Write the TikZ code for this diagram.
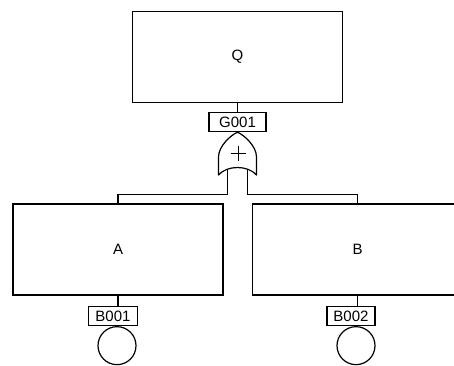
\documentclass[tikz,border=0pt]{standalone}
\usepackage{fontspec}
\setmainfont{Liberation Sans}
\usetikzlibrary{positioning}

\begin{document}
\begin{tikzpicture}[x=1pt, y=-1pt,
      every node/.style={font=\fontsize{15}{17}\selectfont},
      event/.style={draw, line width=1.2pt, minimum width=210pt, minimum height=91pt, inner sep=0pt},
      tag/.style={draw, line width=1.1pt, minimum height=19pt, inner sep=0pt},
      basic/.style={draw, line width=1.2pt, circle, minimum size=38pt, inner sep=0pt},
      wire/.style={line width=1.2pt}
    ]
    \useasboundingbox (0,0) rectangle (454,365);
    \node[event] (top) at (237.5,57) {Q};
    \node[tag, minimum width=57pt, below=9pt of top] (g001) {G001};
    \node[event] (evA) at (118,249.5) {A};
    \node[event] (evB) at (357.5,249.5) {B};
    \node[tag, minimum width=49pt] (b001) at (113,316) {B001};
    \node[tag, minimum width=48pt] (b002) at (351,316) {B002};
    \node[basic, below=0pt of b001.south, xshift=4pt, anchor=north] (c001) {};
    \node[basic, below=0pt of b002.south, xshift=5pt, anchor=north] (c002) {};
    % or gate
    \coordinate (tip) at (g001.south);
    \coordinate (legL) at (227.5,169.5);
    \coordinate (legR) at (247.5,169.5);
    \draw[wire, line join=round] (tip) .. controls (231,135) and (218.5,146) .. (218.5,157)
      -- (218.5,175) .. controls (227,165) and (248,165) .. (256.5,175)
      -- (256.5,157) .. controls (256.5,146) and (244,135) .. (tip);
    \draw[wire, line width=0.9pt] (230.5,153) -- (245.5,153) (238,145.5) -- (238,160.5);
    % connectors
    \draw[wire] (top.south) -- (g001.north);
    \draw[wire] (legL) -- ++(0,25) -| (evA.north);
    \draw[wire] (legR) -- ++(0,25) -| (evB.north);
    \draw[wire] (evA.south) -- (evA.south |- b001.north);
    \draw[wire] (evB.south) -- (evB.south |- b002.north);
  \end{tikzpicture}
\end{document}
